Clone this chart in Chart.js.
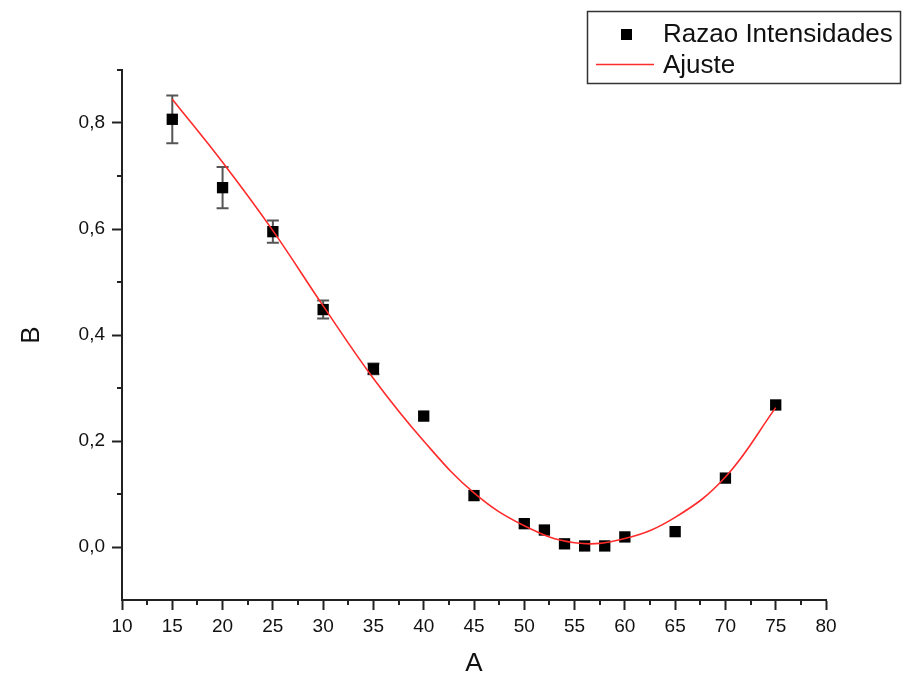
<!DOCTYPE html>
<html>
<head>
<meta charset="utf-8">
<script src="https://cdn.jsdelivr.net/npm/chart.js@4"></script>
<style>
  body { margin: 0; background: #fff; }
</style>
</head>
<body>
<canvas id="myChart" width="907" height="681"></canvas>
<script>
// measured points
var angles = [15, 20, 25, 30, 35, 40, 45, 50, 52, 54, 56, 58, 60, 65, 70, 75];
var ratios = [0.807, 0.678, 0.595, 0.448, 0.336, 0.247, 0.097, 0.044, 0.032, 0.006, 0.002, 0.002, 0.019, 0.029, 0.130, 0.268];
var ratioErr = [0.045, 0.039, 0.021, 0.017, 0.010, 0, 0, 0, 0, 0, 0, 0, 0, 0, 0, 0];

// fitted curve
var fitX = [15, 20, 25, 30, 35, 40, 45, 50, 55, 60, 65, 70, 75];
var fitY = [0.845, 0.726, 0.597, 0.455, 0.318, 0.200, 0.102, 0.040, 0.008, 0.016, 0.056, 0.132, 0.263];

var xTicks = [10, 15, 20, 25, 30, 35, 40, 45, 50, 55, 60, 65, 70, 75, 80];
var xMinor = [12.5, 17.5, 22.5, 27.5, 32.5, 37.5, 42.5, 47.5, 52.5, 57.5, 62.5, 67.5, 72.5, 77.5];
var yTicks = [0, 0.2, 0.4, 0.6, 0.8];
var yMinor = [0.1, 0.3, 0.5, 0.7, 0.9];

var FONT = '"Liberation Sans", Arial, sans-serif';
var AXIS = '#222';

var errorBars = {
	id: 'errorBars',
	beforeDatasetsDraw: function(chart) {
		var c = chart.ctx, xs = chart.scales.x, ys = chart.scales.y;
		c.save();
		c.strokeStyle = '#555';
		c.lineWidth = 2;
		for (var i = 0; i < angles.length; i++) {
			if (!ratioErr[i]) continue;
			var px = xs.getPixelForValue(angles[i]);
			var top = ys.getPixelForValue(ratios[i] + ratioErr[i]);
			var bot = ys.getPixelForValue(ratios[i] - ratioErr[i]);
			c.beginPath();
			c.moveTo(px, top); c.lineTo(px, bot);
			c.moveTo(px - 6, top); c.lineTo(px + 6, top);
			c.moveTo(px - 6, bot); c.lineTo(px + 6, bot);
			c.stroke();
		}
		c.restore();
	}
};

var extras = {
	id: 'extras',
	afterDraw: function(chart) {
		var c = chart.ctx, xs = chart.scales.x, ys = chart.scales.y;
		var area = chart.chartArea;
		c.save();
		// minor ticks
		c.strokeStyle = AXIS;
		c.lineWidth = 2;
		c.beginPath();
		xMinor.forEach(function(v) {
			var px = Math.round(xs.getPixelForValue(v));
			c.moveTo(px, area.bottom); c.lineTo(px, area.bottom + 5);
		});
		yMinor.forEach(function(v) {
			var py = Math.round(ys.getPixelForValue(v));
			c.moveTo(area.left, py); c.lineTo(area.left - 5, py);
		});
		c.stroke();

		// legend box
		var ds = chart.data.datasets;
		c.strokeStyle = '#333';
		c.lineWidth = 1.5;
		c.strokeRect(587.5, 11.5, 313, 72);
		c.fillStyle = '#000';
		c.fillRect(621, 29, 11, 11);
		c.strokeStyle = ds[0].borderColor;
		c.lineWidth = 1.5;
		c.beginPath();
		c.moveTo(596, 64.5); c.lineTo(654, 64.5);
		c.stroke();
		c.fillStyle = '#111';
		c.font = '26px ' + FONT;
		c.textBaseline = 'middle';
		c.textAlign = 'left';
		c.fillText(ds[1].label, 663, 35);
		c.fillText(ds[0].label, 663, 66);
		c.restore();
	}
};

var ctx = document.getElementById('myChart').getContext('2d');
var myChart = new Chart(ctx, {
	type: 'scatter',
	data: {
		datasets: [{
			type: 'line',
			label: 'Ajuste',
			data: fitX.map(function(x, i) { return {x: x, y: fitY[i]}; }),
			borderColor: '#ff2b2b',
			borderWidth: 1.6,
			pointRadius: 0,
			fill: false,
			tension: 0.4,
			order: 0
		}, {
			label: 'Razao Intensidades',
			data: angles.map(function(x, i) { return {x: x, y: ratios[i]}; }),
			pointStyle: 'rect',
			pointRadius: 8,
			backgroundColor: '#000',
			borderColor: '#000',
			borderWidth: 0,
			order: 1
		}]
	},
	options: {
		responsive: false,
		animation: false,
		layout: { padding: { top: 70, right: 81, left: 0, bottom: 0 } },
		plugins: {
			legend: { display: false },
			tooltip: { enabled: false }
		},
		scales: {
			x: {
				type: 'linear',
				min: 10,
				max: 80,
				afterFit: function(s) { s.height = 81; },
				afterBuildTicks: function(s) { s.ticks = xTicks.map(function(v) { return {value: v}; }); },
				border: { display: true, color: AXIS, width: 2 },
				grid: { drawOnChartArea: false, drawTicks: true, tickLength: 10, tickColor: AXIS, tickWidth: 2 },
				ticks: {
					color: '#111',
					padding: 5,
					maxRotation: 0,
					font: { family: FONT, size: 19 },
					callback: function(v) { return String(v); }
				},
				title: {
					display: true,
					text: 'A',
					color: '#111',
					font: { family: FONT, size: 26 },
					padding: { top: 0, bottom: 2 }
				}
			},
			y: {
				type: 'linear',
				min: -0.1,
				max: 0.9,
				afterFit: function(s) { s.width = 122; },
				afterBuildTicks: function(s) { s.ticks = yTicks.map(function(v) { return {value: v}; }); },
				border: { display: true, color: AXIS, width: 2 },
				grid: { drawOnChartArea: false, drawTicks: true, tickLength: 10, tickColor: AXIS, tickWidth: 2 },
				ticks: {
					color: '#111',
					padding: 7,
					font: { family: FONT, size: 19 },
					callback: function(v) { return v.toFixed(1).replace('.', ','); }
				},
				title: {
					display: true,
					text: 'B',
					color: '#111',
					font: { family: FONT, size: 26 },
					padding: { top: 16, bottom: 0 }
				}
			}
		}
	},
	plugins: [errorBars, extras]
});
</script>
</body>
</html>
